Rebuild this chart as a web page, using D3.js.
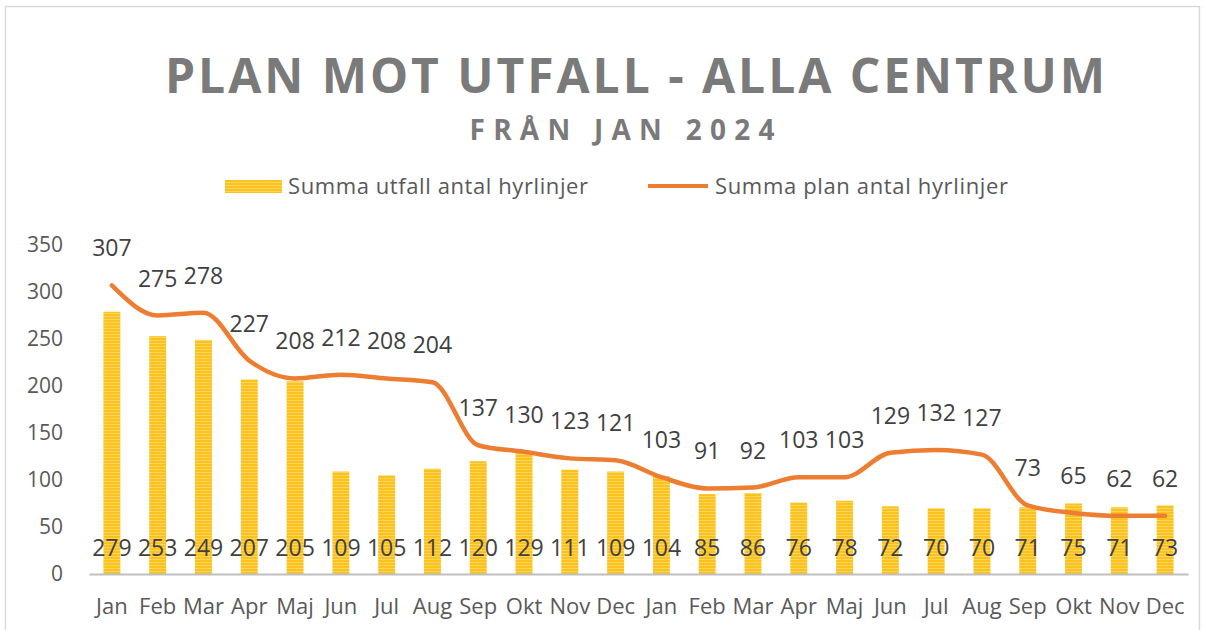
<!DOCTYPE html>
<html>
<head>
<meta charset="utf-8">
<script src="https://cdn.jsdelivr.net/npm/d3@7"></script>
<style>
  body { margin: 0; background: #fff; }
  svg text { font-family: 'Open Sans', sans-serif; }
</style>
</head>
<body>
<div id="chart"></div>
<script>
// Months, two years Jan 2024 - Dec 2025
const months = ['Jan','Feb','Mar','Apr','Maj','Jun','Jul','Aug','Sep','Okt','Nov','Dec',
                'Jan','Feb','Mar','Apr','Maj','Jun','Jul','Aug','Sep','Okt','Nov','Dec'];

// Summa utfall antal hyrlinjer (bars)
const utfall = [279,253,249,207,205,109,105,112,120,129,111,109,
                104,85,86,76,78,72,70,70,71,75,71,73];

// Summa plan antal hyrlinjer (line)
const plan = [307,275,278,227,208,212,208,204,137,130,123,121,
              103,91,92,103,103,129,132,127,73,65,62,62];

const yTicks = [0,50,100,150,200,250,300,350];

const svgWidth = 1206;
const svgHeight = 630;

let margin = { top: 245, right: 18, bottom: 56, left: 89 };
let width = svgWidth - margin.left - margin.right;
let height = svgHeight - margin.top - margin.bottom;

let svg = d3.select('#chart')
  .append('svg')
  .attr('width', svgWidth)
  .attr('height', svgHeight);

// Striped fill for the bars
let defs = svg.append('defs');
let pat = defs.append('pattern')
  .attr('id', 'stripes')
  .attr('patternUnits', 'userSpaceOnUse')
  .attr('width', 4)
  .attr('height', 3);
pat.append('rect').attr('width', 4).attr('height', 3).attr('fill', '#FBC21B');
pat.append('rect').attr('y', 2).attr('width', 4).attr('height', 1).attr('fill', '#FDD55E');

// Outer border
svg.append('rect')
  .attr('x', 5.5).attr('y', 6.5)
  .attr('width', 1194).attr('height', 640)
  .attr('fill', 'none')
  .attr('stroke', '#d9d9d9')
  .attr('stroke-width', 1.5);

// Titles
svg.append('text')
  .attr('x', 635).attr('y', 93)
  .attr('text-anchor', 'middle')
  .attr('font-size', '48px')
  .attr('font-weight', 'bold')
  .attr('fill', '#7a7a7a')
  .attr('textLength', 940)
  .attr('lengthAdjust', 'spacing')
  .text('PLAN MOT UTFALL - ALLA CENTRUM');

svg.append('text')
  .attr('x', 622).attr('y', 140)
  .attr('text-anchor', 'middle')
  .attr('font-size', '28px')
  .attr('font-weight', 'bold')
  .attr('fill', '#7a7a7a')
  .attr('textLength', 305)
  .attr('lengthAdjust', 'spacing')
  .text('FRÅN JAN 2024');

// Legend
let legend = svg.append('g').attr('font-size', '22px').attr('fill', '#595959');
legend.append('rect')
  .attr('x', 225).attr('y', 180)
  .attr('width', 57).attr('height', 13)
  .attr('fill', 'url(#stripes)');
legend.append('text').attr('x', 288).attr('y', 194)
  .attr('textLength', 300).attr('lengthAdjust', 'spacing')
  .text('Summa utfall antal hyrlinjer');
legend.append('line')
  .attr('x1', 648).attr('x2', 708)
  .attr('y1', 186).attr('y2', 186)
  .attr('stroke', '#ED7D31').attr('stroke-width', 4);
legend.append('text').attr('x', 715).attr('y', 194)
  .attr('textLength', 293).attr('lengthAdjust', 'spacing')
  .text('Summa plan antal hyrlinjer');

let chartGroup = svg.append('g')
  .attr('transform', `translate(${margin.left}, ${margin.top})`);

let x = d3.scaleBand()
  .domain(d3.range(months.length))
  .range([0, width])
  .paddingInner(0.63)
  .paddingOuter(0.315);

let y = d3.scaleLinear()
  .domain([0, 350])
  .range([height, 0]);

// Y axis labels only
let leftAxis = d3.axisLeft(y).tickValues(yTicks).tickSize(0).tickPadding(26);
let yAxis = chartGroup.append('g').call(leftAxis);
yAxis.select('.domain').remove();
yAxis.selectAll('text')
  .attr('font-size', '21px')
  .attr('fill', '#595959')
  .style('font-family', "'Open Sans', sans-serif");

// Bars
chartGroup.selectAll('.bar')
  .data(utfall)
  .enter()
  .append('rect')
  .attr('class', 'bar')
  .attr('x', (d, i) => x(i))
  .attr('y', d => y(d))
  .attr('width', x.bandwidth())
  .attr('height', d => height - y(d))
  .attr('fill', 'url(#stripes)');

// X axis
let bottomAxis = d3.axisBottom(x).tickFormat(i => months[i]).tickSize(0).tickPadding(24);
let xAxis = chartGroup.append('g')
  .attr('transform', `translate(0, ${height})`)
  .call(bottomAxis);
xAxis.select('.domain').attr('stroke', '#bfbfbf').attr('stroke-width', 2);
xAxis.selectAll('text')
  .attr('font-size', '22px')
  .attr('fill', '#595959')
  .style('font-family', "'Open Sans', sans-serif");

// Bar labels near the base
chartGroup.selectAll('.barLabel')
  .data(utfall)
  .enter()
  .append('text')
  .attr('class', 'barLabel')
  .attr('x', (d, i) => x(i) + x.bandwidth() / 2)
  .attr('y', height - 18)
  .attr('text-anchor', 'middle')
  .attr('font-size', '23px')
  .attr('fill', '#404040')
  .text(d => d);

// Plan line
let line = d3.line()
  .x((d, i) => x(i) + x.bandwidth() / 2)
  .y(d => y(d))
  .curve(d3.curveMonotoneX);

chartGroup.append('path')
  .datum(plan)
  .attr('d', line)
  .attr('fill', 'none')
  .attr('stroke', '#ED7D31')
  .attr('stroke-width', 4.5)
  .attr('stroke-linejoin', 'round')
  .attr('stroke-linecap', 'round');

// Line labels above points
chartGroup.selectAll('.lineLabel')
  .data(plan)
  .enter()
  .append('text')
  .attr('class', 'lineLabel')
  .attr('x', (d, i) => x(i) + x.bandwidth() / 2)
  .attr('y', d => y(d) - 29)
  .attr('text-anchor', 'middle')
  .attr('font-size', '23px')
  .attr('fill', '#404040')
  .text(d => d);
</script>
</body>
</html>
